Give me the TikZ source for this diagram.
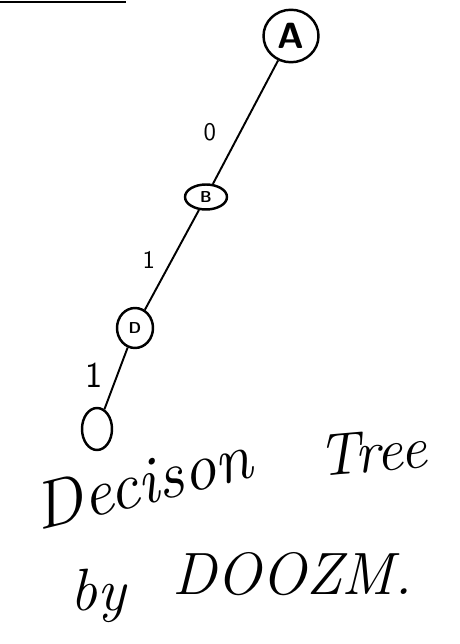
\documentclass[tikz,border=0pt]{standalone}
\usepackage{tikz}
\usetikzlibrary{shapes.geometric}

\begin{document}
\begin{tikzpicture}[
    x=0.02cm, y=-0.02cm,
    every node/.style={font=\sffamily},
    vertex/.style={draw, ellipse, line width=1.4pt, inner sep=0pt, font=\sffamily\bfseries},
    edge/.style={line width=1.1pt},
    bit/.style={font=\Large\sffamily},
    hand/.style={font=\fontsize{34}{34}\selectfont\itshape, inner sep=0pt}
]
\useasboundingbox (0,0) rectangle (459,644);
\draw[line width=1.5pt] (0,2) -- (126,2);
\node[vertex, minimum width=1.1cm, minimum height=1.05cm, font=\huge\sffamily\bfseries] (a) at (291,36) {A};
\node[vertex, minimum width=0.84cm, minimum height=0.5cm, font=\small\sffamily\bfseries] (b) at (206,197) {B};
\node[vertex, minimum width=0.72cm, minimum height=0.8cm, font=\small\sffamily\bfseries] (d) at (135,328) {D};
\node[vertex, minimum width=0.6cm, minimum height=0.84cm] (leaf) at (97,429) {};
\draw[edge] (a) -- node[bit, pos=0.58, left=0.35cm] {0} (b);
\draw[edge] (b) -- node[bit, pos=0.5, left=0.2cm] {1} (d);
\draw[edge] (d) -- node[bit, pos=0.45, left=0.15cm, font=\huge\sffamily] {1} (leaf);
% caption, written on a slant
\node[hand, rotate=14, font=\fontsize{38}{38}\selectfont\itshape] (title) at (142,482) {Decison};
\node[hand, rotate=5] (tree) at (372,452) {Tree};
\node[hand] (by) at (98,596) {by};
\node[hand, anchor=west] (name) at (172,574) {DOOZM.};
\end{tikzpicture}
\end{document}
